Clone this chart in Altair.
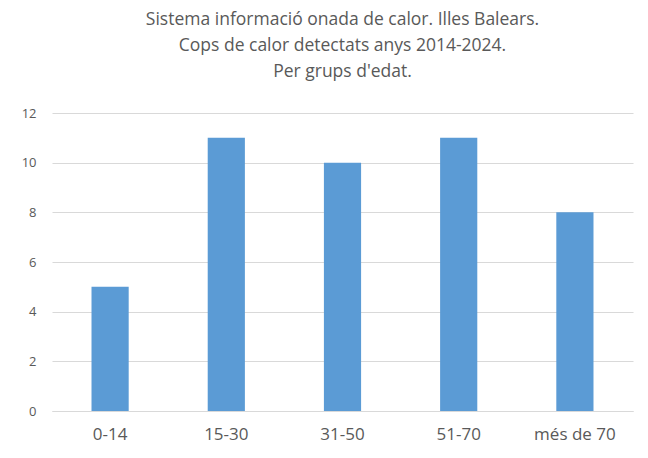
import altair as alt
import pandas as pd

groups = ["0-14", "15-30", "31-50", "51-70", "més de 70"]
counts = [5, 11, 10, 11, 8]
title_lines = ["Sistema informació onada de calor. Illes Balears.",
               "Cops de calor detectats anys 2014-2024.",
               "Per grups d'edat."]

df = pd.DataFrame({"grup": groups, "n": counts})

chart = alt.Chart(df).mark_bar(color="#5B9BD5").encode(
    x=alt.X("grup:N", sort=groups, title=None,
            scale=alt.Scale(paddingInner=0.68, paddingOuter=0.34),
            axis=alt.Axis(labelAngle=0, labelFontSize=17, labelColor="#595959",
                          labelPadding=15, ticks=False, domainColor="#d9d9d9",
                          labelFont="Open Sans")),
    y=alt.Y("n:Q", title=None,
            scale=alt.Scale(domain=[0, 12]),
            axis=alt.Axis(values=[0, 2, 4, 6, 8, 10, 12], labelFontSize=13,
                          labelColor="#595959", labelPadding=16, ticks=False,
                          domain=False, gridColor="#d9d9d9", labelFont="Open Sans")),
).properties(
    width=581, height=298,
    title=alt.TitleParams(text=title_lines, fontSize=17.5, font="Open Sans",
                          fontWeight="normal", color="#595959", anchor="middle",
                          lineHeight=26, offset=27),
    autosize=alt.AutoSizeParams(type="none"),
    padding={"left": 44, "top": 105, "right": 7, "bottom": 39},
).configure_view(stroke=None)

chart.save("out.html", embed_options={"renderer": "svg", "actions": False})
